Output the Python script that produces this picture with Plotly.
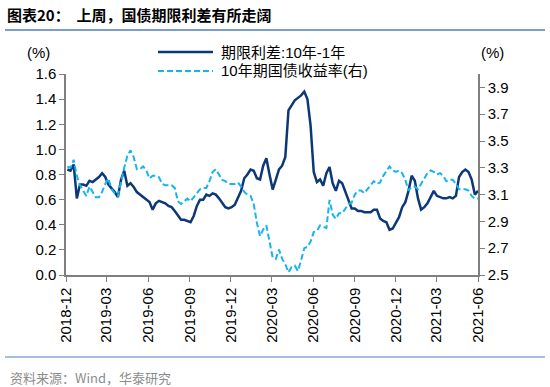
import pandas as pd
import plotly.graph_objects as go

# Weekly observation dates (Fridays)
dates = pd.date_range("2018-12-14", periods=131, freq="7D")

# 期限利差:10年-1年 (%), left axis
spread = [
    0.84, 0.83, 0.88, 0.61, 0.72, 0.72, 0.71, 0.75, 0.74, 0.76,
    0.78, 0.81, 0.78, 0.72, 0.69, 0.66, 0.62, 0.76, 0.83, 0.71,
    0.73, 0.70, 0.66, 0.64, 0.62, 0.60, 0.58, 0.52, 0.57, 0.59,
    0.58, 0.57, 0.55, 0.54, 0.51, 0.47, 0.44, 0.44, 0.43, 0.42,
    0.47, 0.55, 0.60, 0.60, 0.64, 0.63, 0.65, 0.64, 0.61, 0.57,
    0.54, 0.53, 0.54, 0.56, 0.61, 0.67, 0.77, 0.80, 0.84, 0.83,
    0.77, 0.76, 0.87, 0.93, 0.80, 0.68, 0.76, 0.84, 0.87, 0.94,
    1.31, 1.35, 1.39, 1.41, 1.43, 1.46, 1.40, 1.19, 0.82, 0.74,
    0.76, 0.71, 0.81, 0.86, 0.73, 0.67, 0.75, 0.73, 0.66, 0.60,
    0.53, 0.53, 0.51, 0.51, 0.50, 0.50, 0.50, 0.52, 0.52, 0.45,
    0.43, 0.42, 0.36, 0.37, 0.42, 0.46, 0.54, 0.58, 0.67, 0.79,
    0.75, 0.61, 0.52, 0.54, 0.57, 0.62, 0.67, 0.63, 0.62, 0.61,
    0.61, 0.62, 0.61, 0.63, 0.78, 0.82, 0.84, 0.82, 0.76, 0.64,
    0.67,
]

# 10年期国债收益率 (%), right axis
yield10 = [
    3.31, 3.30, 3.36, 3.24, 3.17, 3.13, 3.09, 3.16, 3.12, 3.08,
    3.08, 3.12, 3.18, 3.22, 3.14, 3.11, 3.09, 3.20, 3.30, 3.39,
    3.43, 3.38, 3.29, 3.29, 3.31, 3.28, 3.22, 3.24, 3.24, 3.23,
    3.18, 3.17, 3.17, 3.17, 3.15, 3.05, 3.03, 3.05, 3.07, 3.05,
    3.08, 3.11, 3.14, 3.15, 3.15, 3.20, 3.27, 3.29, 3.25, 3.21,
    3.20, 3.18, 3.18, 3.18, 3.19, 3.16, 3.12, 3.10, 3.09, 3.03,
    2.89, 2.79, 2.84, 2.87, 2.75, 2.63, 2.62, 2.69, 2.62, 2.58,
    2.52, 2.56, 2.57, 2.53, 2.61, 2.70, 2.71, 2.75, 2.82, 2.83,
    2.87, 2.86, 2.85, 3.06, 2.95, 2.92, 2.96, 2.96, 3.00, 3.03,
    3.04, 3.10, 3.13, 3.13, 3.11, 3.14, 3.17, 3.20, 3.18, 3.19,
    3.24, 3.28, 3.31, 3.28, 3.27, 3.28, 3.26, 3.21, 3.13, 3.16,
    3.16, 3.14, 3.18, 3.23, 3.26, 3.28, 3.27, 3.25, 3.26, 3.24,
    3.20, 3.21, 3.21, 3.18, 3.14, 3.14, 3.14, 3.13, 3.09, 3.07,
    3.07,
]

x_tickvals = ["2018-12-11", "2019-03-11", "2019-06-11", "2019-09-11", "2019-12-11",
              "2020-03-11", "2020-06-11", "2020-09-11", "2020-12-11", "2021-03-11",
              "2021-06-11"]
x_ticktext = ["2018-12", "2019-03", "2019-06", "2019-09", "2019-12", "2020-03",
              "2020-06", "2020-09", "2020-12", "2021-03", "2021-06"]
left_ticks = [0.0, 0.2, 0.4, 0.6, 0.8, 1.0, 1.2, 1.4, 1.6]
right_ticks = [2.5, 2.7, 2.9, 3.1, 3.3, 3.5, 3.7, 3.9]

name_spread = "期限利差:10年-1年"
name_yield = "10年期国债收益率(右)"

DARK = "#0C3878"
LIGHT = "#16B4EE"
AXIS = "#7F7F7F"
FONT = "Liberation Sans, Arial, Noto Sans CJK SC, sans-serif"

fig = go.Figure()
fig.add_trace(go.Scatter(x=dates, y=yield10, name=name_yield, yaxis="y2",
                         mode="lines", line=dict(color=LIGHT, width=2, dash="6px,3px"),
                         showlegend=False))
fig.add_trace(go.Scatter(x=dates, y=spread, name=name_spread, yaxis="y",
                         mode="lines", line=dict(color=DARK, width=2.5),
                         showlegend=False))

fig.update_layout(
    width=550, height=387,
    margin=dict(l=66, r=72, t=74, b=112),
    paper_bgcolor="white", plot_bgcolor="white",
    font=dict(family=FONT, size=15, color="#000000"),
    xaxis=dict(type="date", range=["2018-12-11", "2021-06-11"],
               tickvals=x_tickvals, ticktext=x_ticktext, tickangle=-90,
               ticks="outside", ticklen=5, tickcolor=AXIS, tickwidth=1,
               showline=True, linecolor=AXIS, linewidth=1.5,
               showgrid=False, zeroline=False,
               tickfont=dict(size=15)),
    yaxis=dict(range=[0, 1.6], tickvals=left_ticks,
               ticktext=[f"{v:.1f}" for v in left_ticks],
               ticks="outside", ticklen=5, tickcolor=AXIS, tickwidth=1,
               showline=True, linecolor=AXIS, linewidth=1.5,
               showgrid=False, zeroline=False, tickfont=dict(size=15)),
    yaxis2=dict(range=[2.5, 4.0], tickvals=right_ticks,
                ticktext=[f"{v:.1f}" for v in right_ticks],
                overlaying="y", side="right",
                ticks="outside", ticklen=5, tickcolor=AXIS, tickwidth=1,
                showline=True, linecolor=AXIS, linewidth=1.5,
                showgrid=False, zeroline=False, tickfont=dict(size=15)),
)

# Title, rules, source
fig.add_annotation(text="<b>图表20：  上周，国债期限利差有所走阔</b>", xref="paper", yref="paper",
                   x=-66/412 + 5/412, y=1 + (74-14)/201, xanchor="left", yanchor="middle",
                   showarrow=False, font=dict(size=15, family="Noto Sans CJK SC", color="#000000"))
fig.add_shape(type="line", xref="paper", yref="paper",
              x0=-61/412, x1=1 + 67/412, y0=1 + (74-30)/201, y1=1 + (74-30)/201,
              line=dict(color="#4F7DB8", width=1.5))
fig.add_shape(type="line", xref="paper", yref="paper",
              x0=-61/412, x1=1 + 67/412, y0=-(357-275)/201, y1=-(357-275)/201,
              line=dict(color="#4F7DB8", width=1.2))
fig.add_annotation(text="资料来源：Wind，华泰研究", xref="paper", yref="paper",
                   x=-66/412 + 8/412, y=-(377-275)/201, xanchor="left", yanchor="middle",
                   showarrow=False, font=dict(size=13, family="Noto Sans CJK SC", color="#8C8C8C"))

# Axis units
fig.add_annotation(text="(%)", xref="paper", yref="paper", x=(38-66)/412, y=1 + (74-52)/201,
                   xanchor="center", yanchor="middle", showarrow=False, font=dict(size=15))
fig.add_annotation(text="(%)", xref="paper", yref="paper", x=(492-66)/412, y=1 + (74-52)/201,
                   xanchor="center", yanchor="middle", showarrow=False, font=dict(size=15))

# Legend (drawn manually to match long line samples)
for yy, nm, col, dsh, w in [(52, name_spread, DARK, "solid", 2.5), (71, name_yield, LIGHT, "6px,3px", 2)]:
    yp = 1 + (74-yy)/201
    fig.add_shape(type="line", xref="paper", yref="paper",
                  x0=(158-66)/412, x1=(213-66)/412, y0=yp, y1=yp,
                  line=dict(color=col, width=w, dash=dsh))
    fig.add_annotation(text=nm, xref="paper", yref="paper", x=(219-66)/412, y=yp,
                       xanchor="left", yanchor="middle", showarrow=False,
                       font=dict(size=15, family=FONT))

fig.write_html("out.html", config={"displayModeBar": False},
               post_script="document.body.style.margin='0';document.body.style.overflow='hidden';")
